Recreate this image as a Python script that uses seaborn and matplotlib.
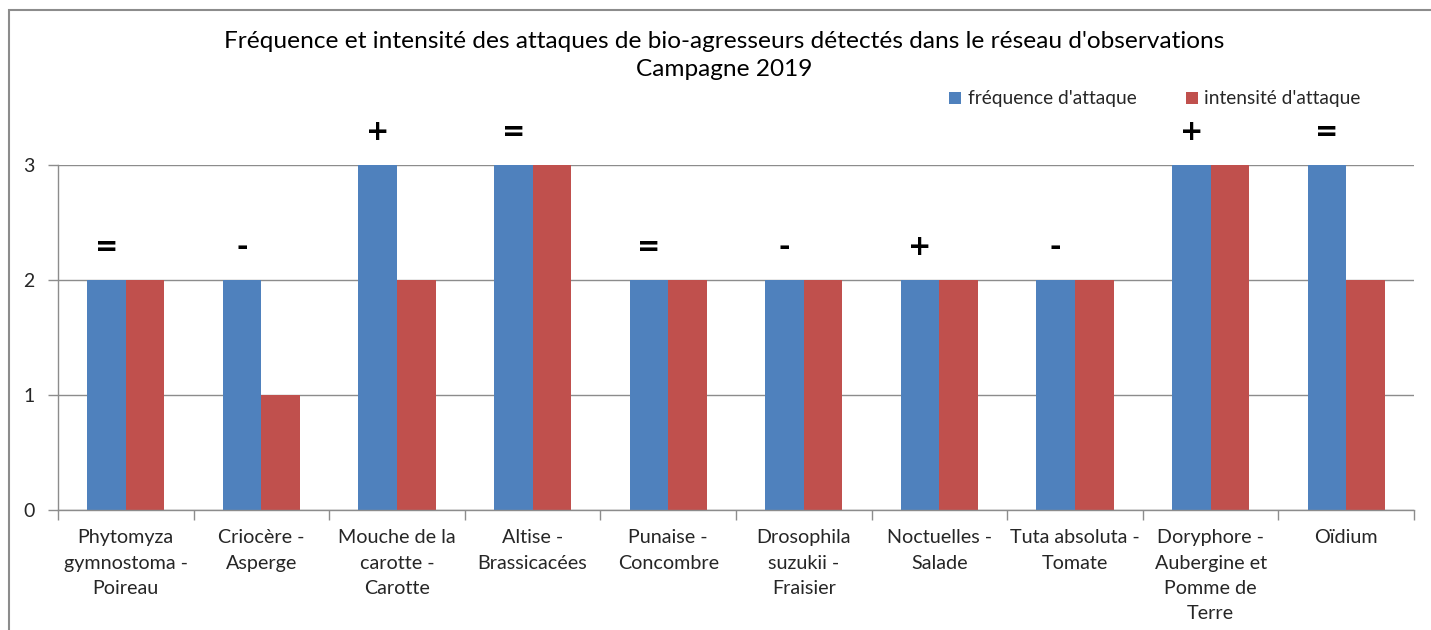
import matplotlib
matplotlib.use("Agg")
import matplotlib.pyplot as plt
import seaborn as sns
import pandas as pd
import numpy as np
from matplotlib.patches import Rectangle

categories = ["Phytomyza\ngymnostoma -\nPoireau", "Criocère -\nAsperge", "Mouche de la\ncarotte -\nCarotte",
              "Altise -\nBrassicacées", "Punaise -\nConcombre", "Drosophila\nsuzukii -\nFraisier",
              "Noctuelles -\nSalade", "Tuta absoluta -\nTomate", "Doryphore -\nAubergine et\nPomme de\nTerre",
              "Oïdium"]
frequence = [2, 2, 3, 3, 2, 2, 2, 2, 3, 3]
intensite = [2, 1, 2, 3, 2, 2, 2, 2, 3, 2]
tendances = ["=", "-", "+", "=", "=", "-", "+", "-", "+", "="]
series_names = ["fréquence d'attaque", "intensité d'attaque"]
colors = ["#4F81BD", "#C0504D"]

sns.set_theme(style="white")
plt.rcParams["font.family"] = ["Lato", "DejaVu Sans"]

df = pd.DataFrame({
    "cat": categories * 2,
    "val": frequence + intensite,
    "serie": [series_names[0]] * len(categories) + [series_names[1]] * len(categories),
})

fig = plt.figure(figsize=(14.31, 6.30), dpi=100)
ax = fig.add_axes([58 / 1431, 120 / 630, 1356 / 1431, 345 / 630])

bar_w = 0.57
sns.barplot(data=df, x="cat", y="val", hue="serie", palette=colors, width=bar_w,
            ax=ax, saturation=1, edgecolor="none", linewidth=0)

ax.set_ylim(0, 3)
ax.set_xlim(-0.5, len(categories) - 0.5)
ax.set_yticks([0, 1, 2, 3])
ax.yaxis.grid(True, color="#8c8c8c", linewidth=1)
ax.set_axisbelow(True)
for s in ["top", "right"]:
    ax.spines[s].set_visible(False)
for s in ["left", "bottom"]:
    ax.spines[s].set_color("#8c8c8c")
    ax.spines[s].set_linewidth(1)

ax.set_xlabel("")
ax.set_ylabel("")
ax.set_xticks(range(len(categories)))
ax.set_xticklabels(categories, fontsize=14.2, color="#262626", linespacing=1.58)
ax.tick_params(axis="x", which="major", length=0, pad=14)
ax.set_xticks(np.arange(-0.5, len(categories)), minor=True)
ax.tick_params(axis="x", which="minor", length=7, color="#8c8c8c", width=1, bottom=True)
ax.tick_params(axis="y", length=7, color="#8c8c8c", width=1, left=True, labelsize=14, labelcolor="#262626", pad=10)

for i, (t, f) in enumerate(zip(tendances, frequence)):
    ax.text(i - bar_w / 4, f + 0.29, t, ha="center", va="center", fontsize=20,
            fontweight="bold", color="black", clip_on=False, family="DejaVu Sans")

leg = ax.legend(loc="upper left", bbox_to_anchor=(936 / 1431, 1 - 77 / 630), bbox_transform=fig.transFigure,
                ncol=2, frameon=False, fontsize=13.8, handlelength=0.6, handleheight=0.6,
                handletextpad=0.35, columnspacing=2.6, borderpad=0.2)
for txt in leg.get_texts():
    txt.set_color("#262626")

fig.text(724 / 1431, 1 - 42 / 630, "Fréquence et intensité des attaques de bio-agresseurs détectés dans le réseau d'observations",
         ha="center", va="center", fontsize=17.6, color="black")
fig.text(724 / 1431, 1 - 70 / 630, "Campagne 2019", ha="center", va="center", fontsize=17.6, color="black")

fig.patches.append(Rectangle((9 / 1431, -0.1), 1.2, 1 - 10 / 630 + 0.1, transform=fig.transFigure,
                             fill=False, edgecolor="#8c8c8c", linewidth=1.5))

fig.savefig("out.png", dpi=100, facecolor="white")
